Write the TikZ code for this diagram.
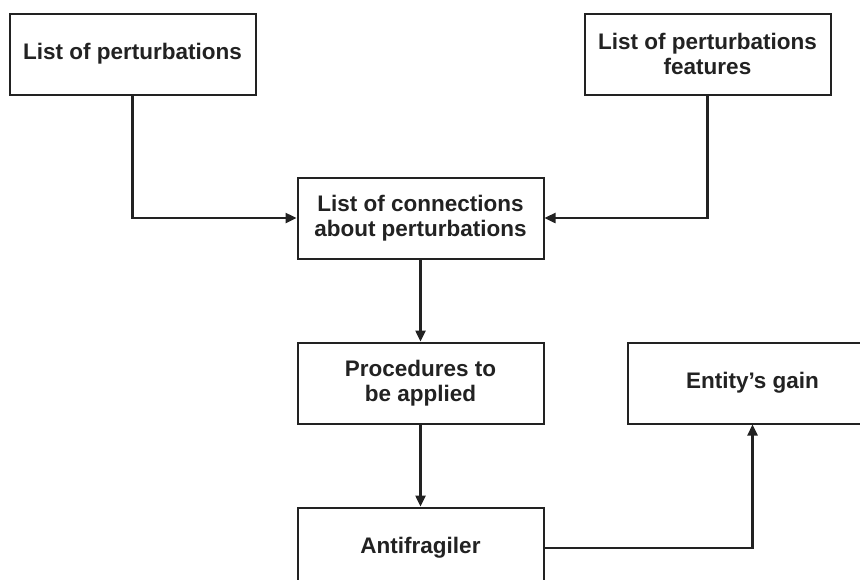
\documentclass[tikz,border=0pt]{standalone}
\usepackage{fontspec}
\setmainfont{Liberation Sans}
\usetikzlibrary{positioning}
\usetikzlibrary{arrows.meta}
\definecolor{inkgray}{HTML}{222222}

\begin{document}
\begin{tikzpicture}[-,>={Triangle[length=11pt,width=10pt]},auto,node distance=81pt,
                line width=2pt,draw=inkgray,
                box node/.style={rectangle,draw=inkgray,text=inkgray,align=center,
                  minimum width=246pt,minimum height=81pt,inner sep=0pt,
                  font=\bfseries\fontsize{22.5}{25.5}\selectfont},
                link/.style={->,draw=inkgray,line width=2.4pt}]

  \clip (0pt,0pt) rectangle (860pt,-579pt);

  \node[box node] (conn) at (420.5pt,-218pt) {List of connections\\about perturbations};
  \node[box node] (pert) [above left=81pt and 40pt of conn] {List of perturbations};
  \node[box node] (feat) [above right=81pt and 39pt of conn] {List of perturbations\\features};
  \node[box node] (proc) [below=82pt of conn] {Procedures to\\be applied};
  \node[box node] (anti) [below=82pt of proc] {Antifragiler};
  \node[box node] (gain) [right=82pt of proc, minimum width=250pt] {Entity's gain};

  \draw[link] (pert) |- (conn);
  \draw[link] (feat) |- (conn);
  \draw[link] (conn) -- (proc);
  \draw[link] (proc) -- (anti);
  \draw[link] (anti) -| (gain);
\end{tikzpicture}
\end{document}
